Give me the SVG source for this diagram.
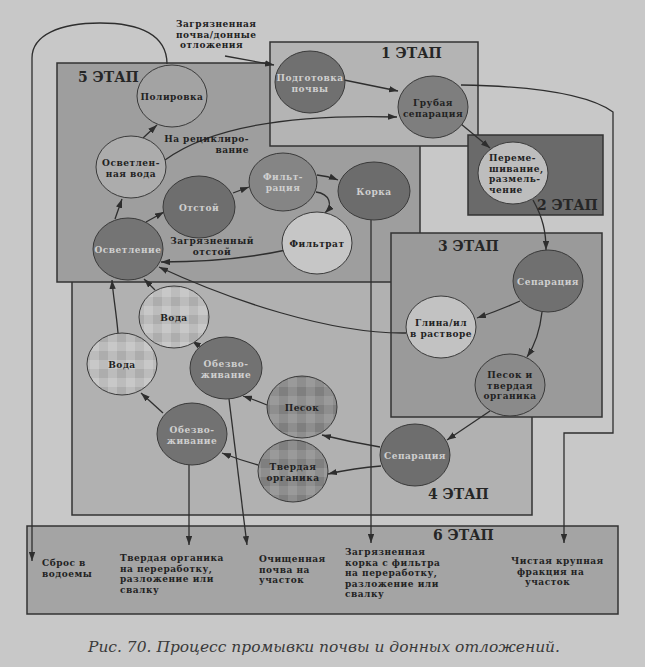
<svg xmlns="http://www.w3.org/2000/svg" width="645" height="667" viewBox="0 0 645 667">
<defs>
<style>
.box{stroke:#333;stroke-width:1.5}
.nd{stroke:#3a3a3a;stroke-width:1}
.t{font-family:"DejaVu Serif","Liberation Serif",serif;font-weight:bold;font-size:9px;letter-spacing:0.5px;fill:#222;text-anchor:middle}
.tl{fill:#cfcfcf}
.ts{font-family:"DejaVu Serif","Liberation Serif",serif;font-weight:bold;font-size:9px;letter-spacing:0.5px;fill:#222}
.st{font-family:"DejaVu Serif","Liberation Serif",serif;font-weight:bold;font-size:14px;fill:#262626}
.e{fill:none;stroke:#2e2e2e;stroke-width:1.3;marker-end:url(#ah)}
.cap{font-family:"DejaVu Serif","Liberation Serif",serif;font-style:italic;font-size:15px;fill:#3a3a3a}
</style>
<marker id="ah" viewBox="0 0 10 7" refX="10" refY="3.5" markerWidth="9" markerHeight="6.5" markerUnits="userSpaceOnUse" orient="auto">
<path d="M0,0 L10,3.5 L0,7 z" fill="#2e2e2e"/>
</marker>
<pattern id="water" width="18" height="18" patternUnits="userSpaceOnUse">
<rect width="18" height="18" fill="#bcbcbc"/>
<rect x="0" y="0" width="9" height="9" fill="#c8c8c8"/>
<rect x="9" y="9" width="9" height="9" fill="#adadad"/>
</pattern>
<pattern id="sand" width="18" height="18" patternUnits="userSpaceOnUse">
<rect width="18" height="18" fill="#8e8e8e"/>
<rect x="0" y="0" width="9" height="9" fill="#9a9a9a"/>
<rect x="9" y="9" width="9" height="9" fill="#7f7f7f"/>
</pattern>
</defs>
<rect width="645" height="667" fill="#c8c8c8"/>

<g id="stages">
<rect id="stage4" class="box" x="72" y="260" width="460" height="255" fill="#b1b1b1"/>
<rect id="stage5" class="box" x="57" y="63" width="363" height="219" fill="#9e9e9e"/>
<rect id="stage1" class="box" x="270" y="42" width="208" height="104" fill="#b4b4b4"/>
<rect id="stage2" class="box" x="468" y="135" width="135" height="80" fill="#6a6a6a"/>
<rect id="stage3" class="box" x="391" y="233" width="211" height="184" fill="#9a9a9a"/>
<rect id="stage6" class="box" x="27" y="526" width="591" height="88" fill="#a4a4a4"/>
<text class="st" x="78" y="82">5 ЭТАП</text>
<text class="st" x="381" y="58">1 ЭТАП</text>
<text class="st" x="537" y="210">2 ЭТАП</text>
<text class="st" x="438" y="251">3 ЭТАП</text>
<text class="st" x="428" y="499">4 ЭТАП</text>
<text class="st" x="433" y="540">6 ЭТАП</text>
</g>

<g id="connectors">
<path class="e" d="M225,56 L274,65"/>
<path class="e" d="M344,80 L398,91"/>
<path class="e" d="M165,160 C210,127 290,114 397,117"/>
<path class="e" d="M461,124 L490,148"/>
<path class="e" d="M533,200 C543,218 546,232 546,250"/>
<path class="e" d="M520,301 Q500,310 477,318"/>
<path class="e" d="M542,312 C540,330 535,345 527,357"/>
<path class="e" d="M490,411 L447,440"/>
<path class="e" d="M380,447 Q350,442 322,435"/>
<path class="e" d="M381,466 Q355,468 328,474"/>
<path class="e" d="M267,405 Q255,400 243,396"/>
<path class="e" d="M258,465 Q240,460 222,453"/>
<path class="e" d="M163,413 L141,393"/>
<path class="e" d="M204,349 L192,341"/>
<path class="e" d="M155,290 L144,279"/>
<path class="e" d="M118,333 C116,310 113,295 112,280"/>
<path class="e" d="M406,333 C330,334 230,300 159,267"/>
<path class="e" d="M286,250 C240,260 200,262 161,262"/>
<path class="e" d="M146,222 L164,212"/>
<path class="e" d="M115,219 L122,199"/>
<path class="e" d="M143,138 L157,125"/>
<path class="e" d="M233,193 L249,187"/>
<path class="e" d="M317,175 Q328,176 338,180"/>
<path class="e" d="M316,192 C330,194 333,205 325,213"/>
<path class="e" d="M371,220 L371,543"/>
<path class="e" d="M229,399 L247,545"/>
<path class="e" d="M189,465 L189,545"/>
<path class="e" d="M167,64 C167,35 140,23 100,23 C60,23 32,35 32,58 L32,561"/>
<path class="e" d="M461,85 C520,86 585,92 613,112 L613,433 L564,433 L564,543"/>
<text class="ts" x="176" y="27">Загрязненная</text>
<text class="ts" x="176" y="37.5">почва/донные</text>
<text class="ts" x="180" y="48">отложения</text>
<text class="ts" x="249" y="142" text-anchor="end">На рециклиро-</text>
<text class="ts" x="249" y="152.5" text-anchor="end">вание</text>
<text class="t" x="212" y="244">Загрязненный</text>
<text class="t" x="212" y="254.5">отстой</text>
</g>

<g id="n-podgotovka"><ellipse class="nd" cx="310" cy="82" rx="35" ry="31" fill="#707070"/><text class="t tl" x="310" y="81">Подготовка</text><text class="t tl" x="310" y="91.5">почвы</text></g>
<g id="n-grubaya"><ellipse class="nd" cx="433" cy="107" rx="35" ry="31" fill="#7e7e7e"/><text class="t" x="433" y="106">Грубая</text><text class="t" x="433" y="116.5">сепарация</text></g>
<g id="n-peremesh"><ellipse class="nd" cx="513" cy="173" rx="35" ry="31" fill="#bdbdbd"/><text class="ts" x="489" y="161">Переме-</text><text class="ts" x="489" y="171.5">шивание,</text><text class="ts" x="489" y="182">размель-</text><text class="ts" x="489" y="192.5">чение</text></g>
<g id="n-polirovka"><ellipse class="nd" cx="172" cy="96" rx="35" ry="31" fill="#a3a3a3"/><text class="t" x="172" y="100">Полировка</text></g>
<g id="n-osvetl-voda"><ellipse class="nd" cx="131" cy="167" rx="35" ry="31" fill="#acacac"/><text class="t" x="131" y="166">Осветлен-</text><text class="t" x="131" y="176.5">ная вода</text></g>
<g id="n-otstoy"><ellipse class="nd" cx="199" cy="207" rx="36" ry="31" fill="#6e6e6e"/><text class="t tl" x="199" y="211">Отстой</text></g>
<g id="n-filtraciya"><ellipse class="nd" cx="283" cy="182" rx="34" ry="29" fill="#858585"/><text class="t tl" x="283" y="180">Фильт-</text><text class="t tl" x="283" y="190.5">рация</text></g>
<g id="n-korka"><ellipse class="nd" cx="374" cy="191" rx="36" ry="29" fill="#6c6c6c"/><text class="t tl" x="374" y="195">Корка</text></g>
<g id="n-filtrat"><ellipse class="nd" cx="317" cy="243" rx="35" ry="31" fill="#c6c6c6"/><text class="t" x="317" y="247">Фильтрат</text></g>
<g id="n-osvetlenie"><ellipse class="nd" cx="128" cy="249" rx="35" ry="31" fill="#747474"/><text class="t tl" x="128" y="253">Осветление</text></g>
<g id="n-voda1"><ellipse class="nd" cx="174" cy="317" rx="35" ry="31" fill="url(#water)"/><text class="t" x="174" y="321">Вода</text></g>
<g id="n-voda2"><ellipse class="nd" cx="122" cy="364" rx="35" ry="31" fill="url(#water)"/><text class="t" x="122" y="368">Вода</text></g>
<g id="n-obezv1"><ellipse class="nd" cx="226" cy="368" rx="36" ry="31" fill="#727272"/><text class="t tl" x="226" y="367">Обезво-</text><text class="t tl" x="226" y="377.5">живание</text></g>
<g id="n-obezv2"><ellipse class="nd" cx="192" cy="434" rx="35" ry="31" fill="#727272"/><text class="t tl" x="192" y="433">Обезво-</text><text class="t tl" x="192" y="443.5">живание</text></g>
<g id="n-pesok"><ellipse class="nd" cx="302" cy="407" rx="35" ry="31" fill="url(#sand)"/><text class="t" x="302" y="411">Песок</text></g>
<g id="n-tverdaya"><ellipse class="nd" cx="293" cy="471" rx="35" ry="31" fill="url(#sand)"/><text class="t" x="293" y="470">Твердая</text><text class="t" x="293" y="480.5">органика</text></g>
<g id="n-separ4"><ellipse class="nd" cx="415" cy="455" rx="35" ry="31" fill="#6e6e6e"/><text class="t tl" x="415" y="459">Сепарация</text></g>
<g id="n-separ3"><ellipse class="nd" cx="548" cy="281" rx="35" ry="31" fill="#707070"/><text class="t tl" x="548" y="285">Сепарация</text></g>
<g id="n-glina"><ellipse class="nd" cx="441" cy="327" rx="35" ry="31" fill="#c2c2c2"/><text class="t" x="441" y="326">Глина/ил</text><text class="t" x="441" y="336.5">в растворе</text></g>
<g id="n-pesok-org"><ellipse class="nd" cx="510" cy="385" rx="35" ry="31" fill="#8a8a8a"/><text class="t" x="510" y="378">Песок и</text><text class="t" x="510" y="388.5">твердая</text><text class="t" x="510" y="399">органика</text></g>

<g id="outputs">
<text class="ts" x="42" y="566">Сброс в</text>
<text class="ts" x="42" y="576.5">водоемы</text>
<text class="ts" x="120" y="561">Твердая органика</text>
<text class="ts" x="120" y="571.5">на переработку,</text>
<text class="ts" x="120" y="582">разложение или</text>
<text class="ts" x="120" y="592.5">свалку</text>
<text class="ts" x="259" y="562">Очищенная</text>
<text class="ts" x="259" y="572.5">почва на</text>
<text class="ts" x="259" y="583">участок</text>
<text class="ts" x="345" y="555">Загрязненная</text>
<text class="ts" x="345" y="565.5">корка с фильтра</text>
<text class="ts" x="345" y="576">на переработку,</text>
<text class="ts" x="345" y="586.5">разложение или</text>
<text class="ts" x="345" y="597">свалку</text>
<text class="ts" x="511" y="564">Чистая крупная</text>
<text class="ts" x="517" y="574.5">фракция на</text>
<text class="ts" x="525" y="585">участок</text>
</g>
<text class="cap" x="88" y="652" textLength="472" lengthAdjust="spacingAndGlyphs">Рис. 70. Процесс промывки почвы и донных отложений.</text>
</svg>
